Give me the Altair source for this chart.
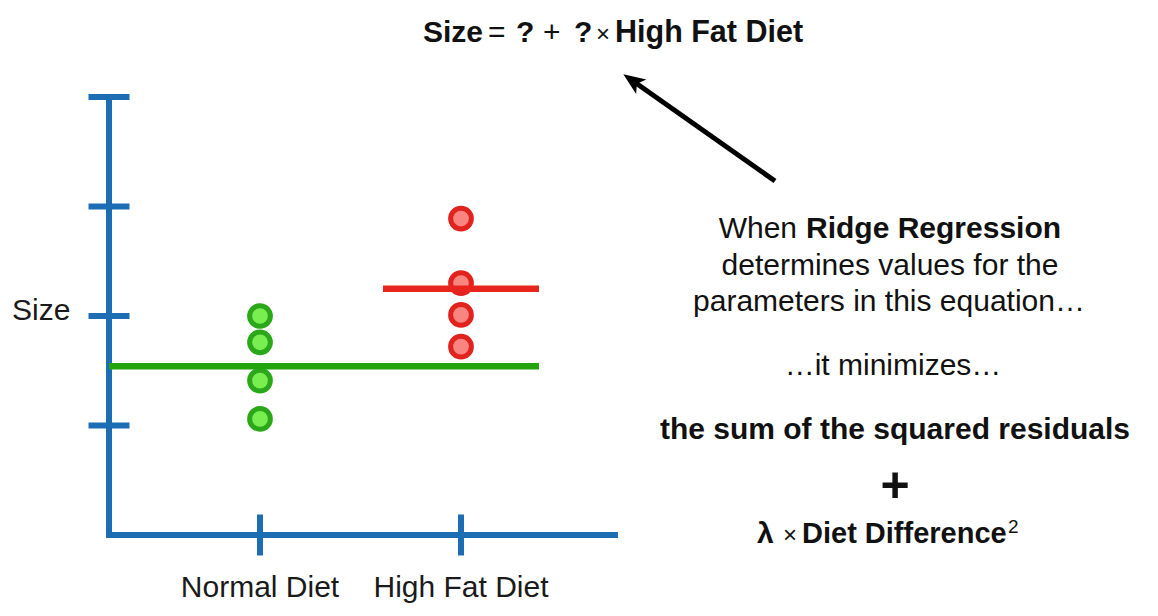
import altair as alt
import pandas as pd

# ---- data ----
normal_sizes = [2.00, 1.76, 1.41, 1.06]
highfat_sizes = [2.89, 2.30, 2.01, 1.72]
category_names = ["Normal Diet", "High Fat Diet"]
category_pos = [1, 2]
normal_fit = 1.54
highfat_fit = 2.25
y_ticks = [1, 2, 3, 4]

FONT = "Liberation Sans"
BLUE = "#1c6db4"

points = pd.DataFrame({
    "group": ["Normal Diet"] * len(normal_sizes) + ["High Fat Diet"] * len(highfat_sizes),
    "pos": [category_pos[0]] * len(normal_sizes) + [category_pos[1]] * len(highfat_sizes),
    "size": normal_sizes + highfat_sizes,
})
fits = pd.DataFrame({
    "group": ["Normal Diet", "High Fat Diet"],
    "start": [0.2488, 1.612],
    "end": [2.388, 2.388],
    "fit": [normal_fit, highfat_fit],
})
axis_lines = pd.DataFrame({
    "x": [0.2488, 0.2488], "x2": [0.2488, 2.766],
    "y": [0, 0], "y2": [4, 0],
})
yticks_df = pd.DataFrame({"v": y_ticks, "x": [0.2488] * len(y_ticks)})
xticks_df = pd.DataFrame({"pos": category_pos, "name": category_names, "y": [0, 0]})

xs = alt.Scale(domain=[-0.25373, 5.42786], nice=False, zero=False)
ys = alt.Scale(domain=[-0.66667, 4.81279], nice=False, zero=False)
color_scale = alt.Scale(domain=["Normal Diet", "High Fat Diet"], range=["#2aa81a", "#e2221c"])
fill_scale = alt.Scale(domain=["Normal Diet", "High Fat Diet"], range=["#78ee50", "#f8857f"])
line_scale = alt.Scale(domain=["Normal Diet", "High Fat Diet"], range=["#22a50c", "#e8251c"])

axes = alt.Chart(axis_lines).mark_rule(color=BLUE, strokeWidth=6, strokeCap="square").encode(
    x=alt.X("x:Q", scale=xs, axis=None), x2="x2:Q",
    y=alt.Y("y:Q", scale=ys, axis=None), y2="y2:Q",
)
yt = alt.Chart(yticks_df).mark_tick(color=BLUE, orient="horizontal", size=41, thickness=6, opacity=1).encode(
    x=alt.X("x:Q", scale=xs, axis=None), y=alt.Y("v:Q", scale=ys, axis=None)
)
xt = alt.Chart(xticks_df).mark_tick(color=BLUE, orient="vertical", size=41, thickness=6, opacity=1).encode(
    x=alt.X("pos:Q", scale=xs, axis=None), y=alt.Y("y:Q", scale=ys, axis=None)
)
xlab = alt.Chart(xticks_df).mark_text(font=FONT, fontSize=30, color="#1a1a1a", baseline="alphabetic", dy=62).encode(
    x=alt.X("pos:Q", scale=xs, axis=None), y=alt.Y("y:Q", scale=ys, axis=None), text="name:N"
)
pts = alt.Chart(points).mark_point(filled=False, size=430, strokeWidth=5, opacity=1, fillOpacity=1, shape="circle").encode(
    x=alt.X("pos:Q", scale=xs, axis=None),
    y=alt.Y("size:Q", scale=ys, axis=None),
    stroke=alt.Stroke("group:N", scale=color_scale, legend=None),
    fill=alt.Fill("group:N", scale=fill_scale, legend=None),
)
fit_lines = alt.Chart(fits).mark_rule(strokeWidth=6.5).encode(
    x=alt.X("start:Q", scale=xs, axis=None), x2="end:Q",
    y=alt.Y("fit:Q", scale=ys, axis=None),
    color=alt.Color("group:N", scale=line_scale, legend=None),
)


def label(text, x, y, size=30, weight="normal", align="center", color="#111111"):
    return alt.Chart(alt.Data(values=[{}])).mark_text(
        text=text, font=FONT, fontSize=size, fontWeight=weight, align=align,
        baseline="alphabetic", color=color,
    ).encode(x=alt.value(x - 8), y=alt.value(y - 8))


texts = [
    label("Size", 12, 320, align="left", color="#1a1a1a"),
    # equation at top
    label("Size", 423, 42, weight="bold", align="left"),
    label("=", 488, 42, size=30, align="left"),
    label("?", 516, 42, weight="bold", align="left"),
    label("+", 543, 42, size=30, align="left"),
    label("?", 574, 42, weight="bold", align="left"),
    label("×", 596, 42, size=24, align="left"),
    label("High Fat Diet", 615, 42, size=30.5, weight="bold", align="left"),
    # right-hand explanation
    label("When", 797, 238, align="right"),
    label("Ridge Regression", 806, 238, weight="bold", align="left"),
    label("determines values for the", 890, 275),
    label("parameters in this equation…", 889, 311),
    label("…it minimizes…", 893, 375),
    label("the sum of the squared residuals", 895, 439, weight="bold"),
    label("+", 895, 502, size=50, weight="bold"),
    label("λ", 757, 543, weight="bold", align="left"),
    label("×", 783, 543, size=24, align="left"),
    label("Diet Difference", 802, 543, size=29, weight="bold", align="left"),
    label("2", 1008, 533, size=19, align="left"),
]

arrow_shaft = alt.Chart(alt.Data(values=[{}])).mark_rule(color="black", strokeWidth=5).encode(
    x=alt.value(775 - 8), y=alt.value(181 - 8), x2=alt.value(633 - 8), y2=alt.value(81 - 8)
)
arrow_head = alt.Chart(alt.Data(values=[{}])).mark_point(
    shape="M0,-1 L0.75,0.85 L0,0.4 L-0.75,0.85 Z", filled=True, color="black", opacity=1,
    size=560, angle=305,
).encode(x=alt.value(633 - 8), y=alt.value(81 - 8))

chart = alt.layer(
    axes, yt, xt, xlab, pts, fit_lines, arrow_shaft, arrow_head, *texts
).properties(
    width=1142, height=600, padding=0,
    autosize=alt.AutoSizeParams(type="none"),
    background="white",
).configure_view(strokeWidth=0)

chart.save("out.html", embed_options={"renderer": "svg", "actions": False})
